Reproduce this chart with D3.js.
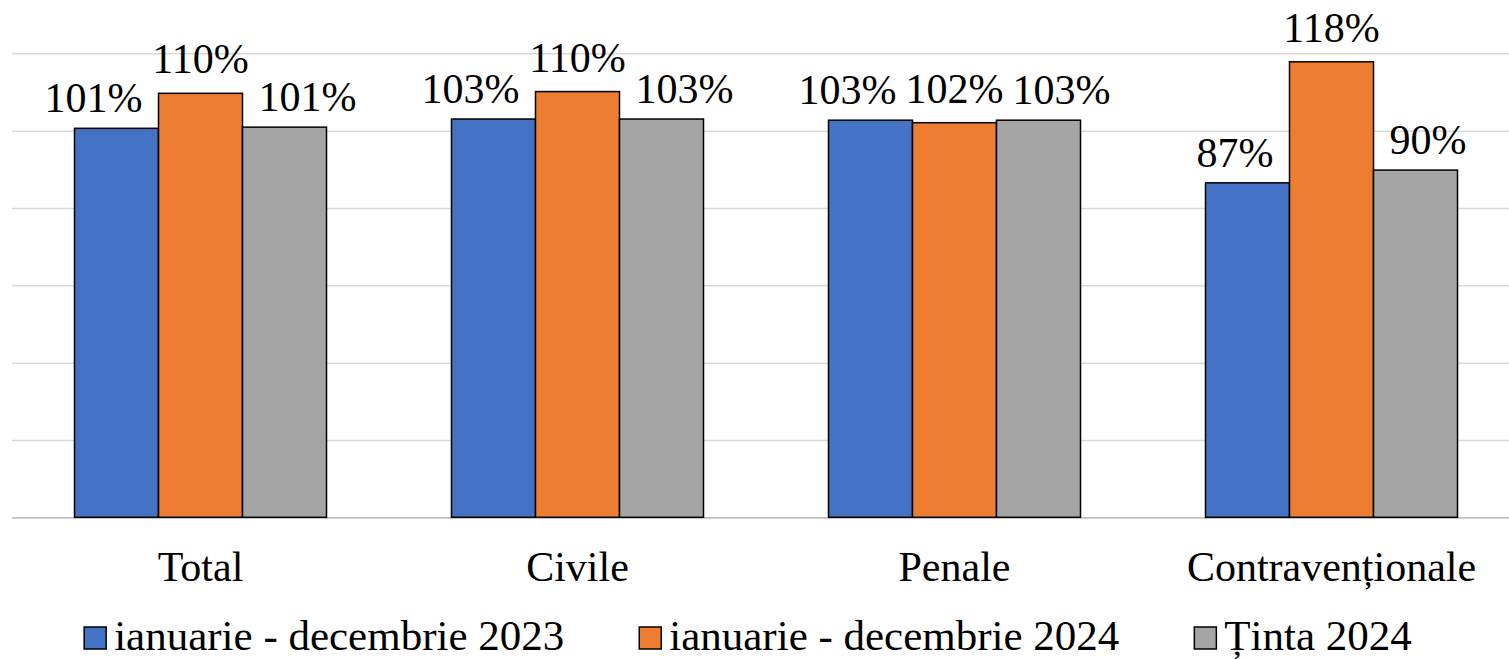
<!DOCTYPE html>
<html>
<head>
<meta charset="utf-8">
<script src="https://cdn.jsdelivr.net/npm/d3@7"></script>
<style>
  html, body { margin: 0; padding: 0; background: #fff; }
  svg { display: block; }
  text { font-family: "Liberation Serif", "Times New Roman", serif; fill: #000; }
</style>
</head>
<body>
<svg id="chart" width="1509" height="659"></svg>
<script>
const categories = ["Total", "Civile", "Penale", "Contravenționale"];
const seriesNames = ["ianuarie - decembrie 2023", "ianuarie - decembrie 2024", "Ținta 2024"];
const values2023 = [100.6, 103.0, 102.7, 86.5];
const values2024 = [109.65, 110.1, 102.05, 117.8];
const valuesTarget = [100.9, 103.0, 102.7, 89.8];
const yTicks = [0, 20, 40, 60, 80, 100, 120];

(function () {
const seriesValues = [values2023, values2024, valuesTarget];
const colors = ["#4472C4", "#ED7D31", "#A5A5A5"];

const W = 1509;
const svg = d3.select("#chart");

const plotLeft = 12, plotRight = 1520, plotTop = 53.3, plotBottom = 517.3;

const x0 = d3.scaleBand().domain(categories).range([plotLeft, plotRight])
  .paddingInner(125 / 377).paddingOuter(62.5 / 377);
const x1 = d3.scaleBand().domain(d3.range(seriesNames.length)).range([0, x0.bandwidth()]);
const y = d3.scaleLinear().domain([0, 120]).range([plotBottom, plotTop]);

// gridlines
const grid = svg.append("g").attr("transform", `translate(${plotLeft},0)`)
  .call(d3.axisLeft(y).tickValues(yTicks).tickSize(-(W - plotLeft)).tickFormat(""));
grid.select(".domain").remove();
grid.selectAll(".tick line").attr("stroke", "#d9d9d9").attr("stroke-width", 1.5);
grid.selectAll(".tick").filter(d => d === 0).select("line").attr("stroke", "#bfbfbf").attr("stroke-width", 1.8);

// data rows
const rows = [];
categories.forEach((c, i) => {
  seriesValues.forEach((vals, s) => rows.push({ cat: c, s, v: vals[i] }));
});

const bars = svg.append("g");
bars.selectAll("rect").data(rows).enter().append("rect")
  .attr("x", d => x0(d.cat) + x1(d.s))
  .attr("y", d => y(d.v))
  .attr("width", x1.bandwidth())
  .attr("height", d => y(0) - y(d.v))
  .attr("fill", d => colors[d.s])
  .attr("stroke", "#000")
  .attr("stroke-width", 1.5);

// value labels
const labels = svg.append("g");
labels.selectAll("text").data(rows).enter().append("text")
  .attr("font-size", 42)
  .attr("text-anchor", "middle")
  .text(d => Math.round(d.v) + "%")
  .each(function (d) {
    const w = this.getComputedTextLength();
    const cx = x0(d.cat) + x1(d.s) + x1.bandwidth() / 2;
    const shift = (w - x1.bandwidth()) / 2 + 16;
    const dir = d.s === 0 ? -1 : d.s === 2 ? 1 : 0;
    d3.select(this)
      .attr("x", cx + dir * shift)
      .attr("y", y(d.v) - (d.s === 1 ? 20 : 16));
  });

// category labels
svg.append("g").selectAll("text").data(categories).enter().append("text")
  .attr("font-size", 42)
  .attr("text-anchor", "middle")
  .attr("x", d => x0(d) + x0.bandwidth() / 2)
  .attr("y", 581)
  .text(d => d);

// legend
const legend = svg.append("g");
const sq = 22, gapSq = 8, gapItem = 75;
const items = legend.selectAll("g").data(seriesNames).enter().append("g");
items.append("rect")
  .attr("width", sq).attr("height", sq)
  .attr("y", 627)
  .attr("fill", (d, i) => colors[i])
  .attr("stroke", "#000").attr("stroke-width", 1.5);
items.append("text")
  .attr("font-size", 43)
  .attr("x", sq + gapSq)
  .attr("y", 650)
  .text(d => d);
const widths = [];
items.each(function () { widths.push(sq + gapSq + d3.select(this).select("text").node().getComputedTextLength()); });
const totalW = d3.sum(widths) + gapItem * (widths.length - 1);
let cur = 748 - totalW / 2;
items.each(function (d, i) {
  d3.select(this).attr("transform", `translate(${cur},0)`);
  cur += widths[i] + gapItem;
});
})();
</script>
</body>
</html>
